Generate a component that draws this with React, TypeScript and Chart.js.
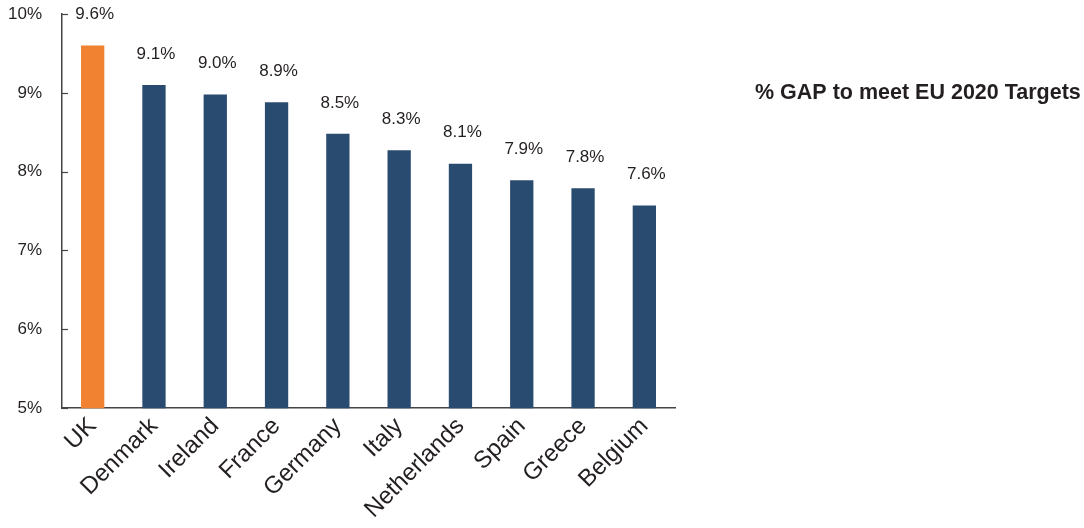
import React, { useEffect, useRef } from "react";
import { Chart, registerables } from "chart.js";

Chart.register(...registerables);

const countries = ["UK", "Denmark", "Ireland", "France", "Germany", "Italy", "Netherlands", "Spain", "Greece", "Belgium"];
const gapValues = [9.6, 9.1, 8.98, 8.88, 8.48, 8.27, 8.1, 7.89, 7.79, 7.57];
const gapLabels = ["9.6%", "9.1%", "9.0%", "8.9%", "8.5%", "8.3%", "8.1%", "7.9%", "7.8%", "7.6%"];
const barColors = ["#F08231", "#2A4B70", "#2A4B70", "#2A4B70", "#2A4B70", "#2A4B70", "#2A4B70", "#2A4B70", "#2A4B70", "#2A4B70"];
const seriesName = "% GAP to meet EU 2020 Targets";
const yMin = 5;
const yMax = 10;

const FONT = "'Liberation Sans', Arial, Helvetica, sans-serif";
const TEXT = "#231F20";
const AXIS = "#444444";

const extras = {
  id: "extras",
  afterDatasetsDraw(chart: any) {
    const ctx = chart.ctx;
    const meta = chart.getDatasetMeta(0);
    ctx.save();
    // value labels
    ctx.font = `17px ${FONT}`;
    ctx.fillStyle = TEXT;
    ctx.textAlign = "center";
    ctx.textBaseline = "middle";
    meta.data.forEach((bar: any, i: number) => {
      ctx.fillText(gapLabels[i], bar.x + 2, bar.y - 31);
    });
    // inward tick marks on y axis
    const ys = chart.scales.y;
    const left = chart.chartArea.left;
    ctx.strokeStyle = AXIS;
    ctx.lineWidth = 1.2;
    ys.ticks.forEach((t: any) => {
      const y = Math.round(ys.getPixelForValue(t.value)) + 0.5;
      ctx.beginPath();
      ctx.moveTo(left, y);
      ctx.lineTo(left + 6, y);
      ctx.stroke();
    });
    // legend text
    ctx.font = `bold 21.5px ${FONT}`;
    ctx.textAlign = "left";
    ctx.fillStyle = TEXT;
    ctx.fillText(seriesName, chart.chartArea.right + 80, chart.chartArea.top + 79);
    ctx.restore();
  },
};

export default function App() {
  const ref = useRef<HTMLCanvasElement>(null);
  useEffect(() => {
    document.body.style.margin = "0";
    const chart = new Chart(ref.current!, {
      type: "bar",
      data: {
        labels: countries,
        datasets: [
          {
            label: seriesName,
            data: gapValues,
            backgroundColor: barColors,
            barPercentage: 0.38,
            categoryPercentage: 1,
          },
        ],
      },
      options: {
        animation: false,
        responsive: false,
        maintainAspectRatio: false,
        layout: { padding: { left: 8, right: 409, top: 14, bottom: 0 } },
        plugins: { legend: { display: false }, tooltip: { enabled: false } },
        scales: {
          x: {
            grid: { display: false, drawTicks: false },
            border: { display: true, color: AXIS, width: 1.5 },
            ticks: {
              color: TEXT,
              font: { family: FONT, size: 24 },
              minRotation: 45,
              maxRotation: 45,
              padding: 4,
            },
            afterFit: (s: any) => {
              s.paddingLeft = 0;
              s.paddingRight = 0;
            },
          },
          y: {
            min: yMin,
            max: yMax,
            grid: { display: false, drawOnChartArea: false, drawTicks: true, tickLength: 20, tickColor: "rgba(0,0,0,0)" },
            border: { display: true, color: AXIS, width: 1.5 },
            ticks: {
              stepSize: 1,
              color: TEXT,
              font: { family: FONT, size: 17 },
              padding: 0,
              callback: (v: any) => `${v}%`,
            },
          },
        },
      },
      plugins: [extras],
    });
    return () => chart.destroy();
  }, []);
  return (
    <div style={{ width: 1084, height: 528 }}>
      <canvas ref={ref} width={1084} height={528} style={{ display: "block" }} />
    </div>
  );
}
